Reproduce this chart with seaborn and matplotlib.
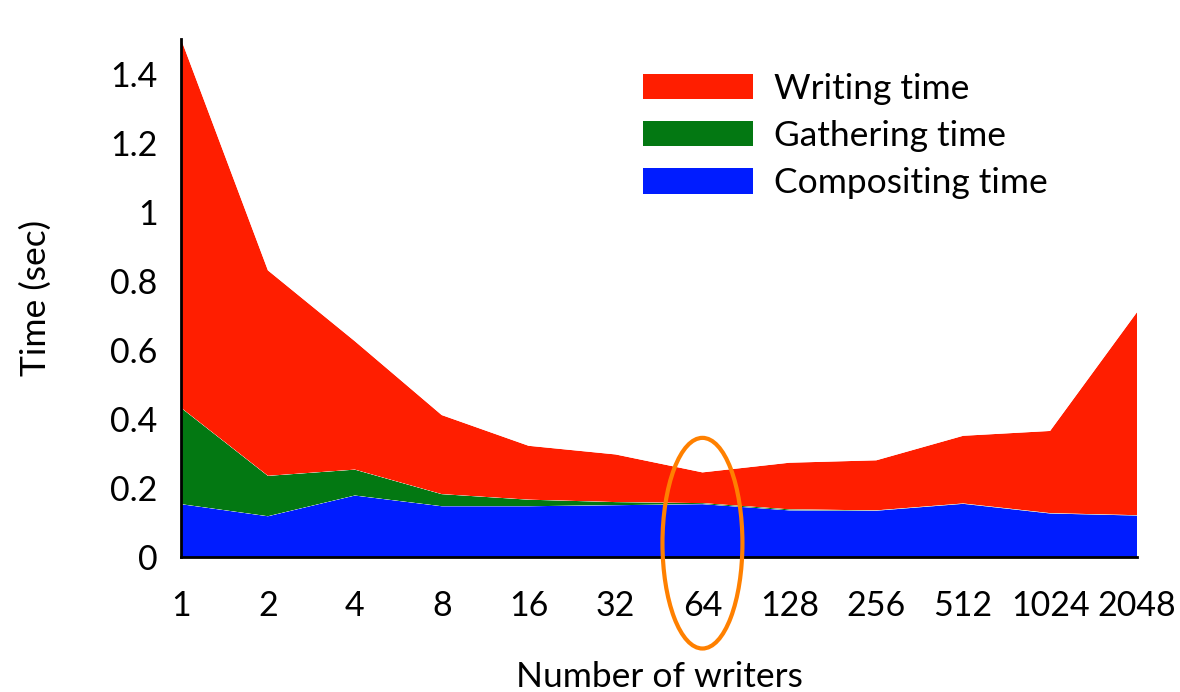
import numpy as np
import pandas as pd
import matplotlib
matplotlib.use("Agg")
import matplotlib.pyplot as plt
from matplotlib.patches import Patch, Ellipse
import seaborn as sns
import seaborn.objects as so

# ---- data ----
writers = ["1", "2", "4", "8", "16", "32", "64", "128", "256", "512", "1024", "2048"]
compositing_time = [0.153, 0.118, 0.178, 0.147, 0.147, 0.150, 0.153, 0.135, 0.134, 0.154, 0.126, 0.120]
gathering_time = [0.279, 0.117, 0.075, 0.035, 0.019, 0.009, 0.003, 0.003, 0.001, 0.001, 0.001, 0.001]
writing_time = [1.068, 0.595, 0.372, 0.229, 0.156, 0.138, 0.089, 0.135, 0.145, 0.196, 0.238, 0.588]
highlight = "64"

components = ["Compositing time", "Gathering time", "Writing time"]
colors = {"Writing time": "#FF1E00", "Gathering time": "#037812", "Compositing time": "#001CFF"}

rows = []
for comp, vals in zip(components, [compositing_time, gathering_time, writing_time]):
    for i, (w, v) in enumerate(zip(writers, vals)):
        rows.append({"pos": i, "writers": w, "time": v, "component": comp})
df = pd.DataFrame(rows)

FONT = ["Lato", "DejaVu Sans"]
sns.set_theme(style="white")
plt.rcParams["font.family"] = FONT
plt.rcParams["text.color"] = "black"

fig = plt.figure(figsize=(11.8, 6.92), dpi=100)
ax = fig.add_axes([181 / 1180, 1 - 557 / 692, (1137 - 181) / 1180, (557 - 39) / 692])

theme = {**sns.axes_style("white"), "font.family": FONT, "text.color": "black"}
(
    so.Plot(df, x="pos", y="time", color="component")
    .add(so.Area(alpha=1, edgewidth=0), so.Stack())
    .scale(color=so.Nominal(colors, order=components))
    .theme(theme)
    .on(ax)
    .plot()
)
fig.legends.clear()

for p in ax.patches:
    p.set_zorder(2)

ax.set_xlim(0, len(writers) - 1)
ax.set_ylim(0, 1.5)
ax.set_xticks(range(len(writers)))
ax.set_xticklabels(writers)
ax.set_yticks([0, 0.2, 0.4, 0.6, 0.8, 1.0, 1.2, 1.4])
ax.set_yticklabels(["0", "0.2", "0.4", "0.6", "0.8", "1", "1.2", "1.4"])
ax.tick_params(axis="both", direction="in", length=7, width=1.2, color="black",
               labelsize=24.5, labelcolor="black", labelfontfamily="Lato")
ax.tick_params(axis="x", pad=24)
ax.tick_params(axis="y", pad=17)
ax.set_xlabel("Number of writers", fontsize=25.5, family=FONT, color="black")
ax.set_ylabel("Time (sec)", fontsize=25.5, family=FONT, color="black")
ax.xaxis.set_label_coords(0.5, -0.2)
ax.yaxis.set_label_coords(-0.135, 0.5)

for side in ["top", "right"]:
    ax.spines[side].set_visible(False)
for side in ["left", "bottom"]:
    ax.spines[side].set_visible(True)
    ax.spines[side].set_color("black")
    ax.spines[side].set_linewidth(2)
    ax.spines[side].set_zorder(3)
ax.grid(False)
ax.set_facecolor("white")

handles = [Patch(facecolor=colors[c], edgecolor="none", label=c) for c in
           ["Writing time", "Gathering time", "Compositing time"]]
ax.legend(handles=handles, loc="upper left", bbox_to_anchor=(0.483, 0.935),
          frameon=False, prop={"family": FONT, "size": 25.5}, labelcolor="black",
          handlelength=3.1, handleheight=0.73, handletextpad=0.62, labelspacing=0.43,
          borderpad=0, borderaxespad=0)

# orange highlight ellipse around the 64-writer column
hx = writers.index(highlight)
ell = Ellipse((hx, 0.04), width=0.92, height=0.61, fill=False, edgecolor="#FF8000",
              linewidth=3, zorder=4, clip_on=False)
ax.add_patch(ell)

fig.savefig("out.png", dpi=100)
